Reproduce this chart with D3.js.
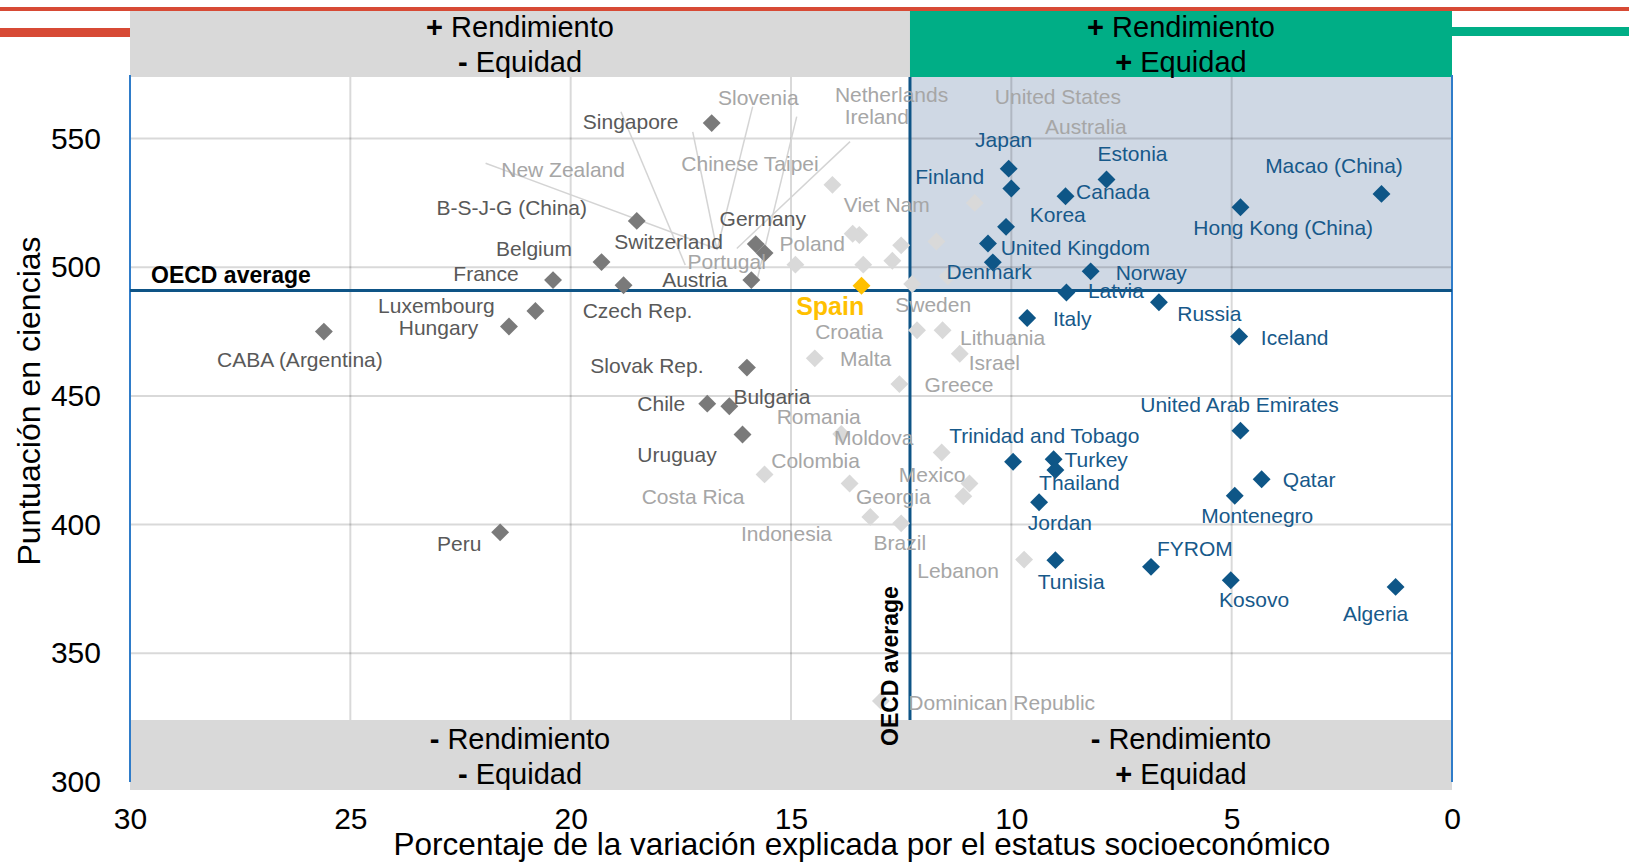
<!DOCTYPE html>
<html>
<head>
<meta charset="utf-8">
<script src="https://cdn.jsdelivr.net/npm/d3@7"></script>
<style>
  body { margin: 0; background: #fff; }
  svg { display: block; font-family: "Liberation Sans", Arial, sans-serif; }
</style>
</head>
<body>
<div id="chart"></div>
<script>
// values: % of variation explained by ESCS (x) and science score (y)
const countries = [
  "Singapore", "B-S-J-G (China)", "Belgium", "France", "Czech Rep.", "Switzerland", "Germany", "Austria",
  "Luxembourg", "Hungary", "CABA (Argentina)", "Peru", "Slovak Rep.", "Chile", "Bulgaria", "Uruguay",
  "Slovenia", "New Zealand", "Chinese Taipei", "Netherlands", "Ireland", "Poland", "Portugal", "Viet Nam",
  "Australia", "United States", "Sweden", "Croatia", "Lithuania", "Malta", "Israel", "Greece", "Romania",
  "Moldova", "Colombia", "Mexico", "Georgia", "Costa Rica", "Indonesia", "Brazil", "Lebanon", "Dominican Republic",
  "Japan", "Finland", "Korea", "Canada", "United Kingdom", "Denmark", "Norway", "Latvia", "Estonia",
  "Macao (China)", "Hong Kong (China)", "Russia", "Iceland", "Italy", "United Arab Emirates", "Qatar",
  "Montenegro", "FYROM", "Kosovo", "Algeria", "Trinidad and Tobago", "Turkey", "Thailand", "Jordan", "Tunisia",
  "Spain"
];
const equityPct = [
  16.8, 18.5, 19.3, 20.4, 18.8, 15.6, 15.8, 15.9,
  20.8, 21.4, 25.6, 21.6, 16.0, 16.9, 16.4, 16.1,
  13.45, 13.6, 14.06, 12.5, 12.7, 13.36, 14.9, 10.83,
  11.7, 11.44, 12.25, 12.14, 11.56, 14.46, 11.17, 12.54, 13.86,
  11.58, 13.67, 10.95, 11.09, 15.6, 13.2, 12.5, 9.71, 12.96,
  10.06, 10.0, 10.12, 8.77, 10.53, 10.42, 8.2, 8.75, 7.84,
  1.6, 4.8, 6.65, 4.83, 9.64, 4.8, 4.32,
  4.93, 6.83, 5.02, 1.28, 9.96, 9.04, 9.0, 9.37, 9.0,
  13.4
];
const scienceScore = [
  556, 518, 502, 495, 493, 505.5, 509, 495,
  483, 477, 475, 397, 461, 447, 446, 435,
  512.5, 513, 532, 508.5, 502.5, 501, 501, 525,
  510, 496.5, 493.5, 475.5, 475.5, 464.6, 466.4, 454.6, 435.2,
  428, 416, 416, 411, 419.5, 403, 400.5, 386.4, 331.5,
  538.3, 530.6, 515.7, 527.6, 509.2, 501.9, 498.4, 490.2, 534.1,
  528.5, 523.3, 486.4, 473.1, 480.3, 436.5, 417.6,
  411.2, 383.6, 378.4, 375.8, 424.4, 425.4, 421.2, 408.7, 386.2,
  492.8
];
const group = [
  "dark", "dark", "dark", "dark", "dark", "dark", "dark", "dark",
  "dark", "dark", "dark", "dark", "dark", "dark", "dark", "dark",
  "light", "light", "light", "light", "light", "light", "light", "light",
  "light", "light", "light", "light", "light", "light", "light", "light", "light",
  "light", "light", "light", "light", "light", "light", "light", "light", "light",
  "blue", "blue", "blue", "blue", "blue", "blue", "blue", "blue", "blue",
  "blue", "blue", "blue", "blue", "blue", "blue", "blue",
  "blue", "blue", "blue", "blue", "blue", "blue", "blue", "blue", "blue",
  "spain"
];

const xTicks = [30, 25, 20, 15, 10, 5, 0];
const yTicks = [300, 350, 400, 450, 500, 550];
const oecdEquity = 12.3;
const oecdScore = 491;

// leader lines, data units: [x1, y1, x2, y2]
const leaderLines = [
  [21.93, 540.4, 16.68, 507.1],
  [18.86, 560.4, 17.40, 500.9],
  [17.23, 552.6, 16.68, 506.7],
  [15.87, 562.4, 16.68, 506.7],
  [14.87, 558.5, 15.78, 494.4],
  [13.66, 548.8, 16.23, 507.3]
];

const quadrantLabels = [
  {side: "left", pos: "top", lines: [["+", "Rendimiento"], ["-", "Equidad"]]},
  {side: "right", pos: "top", lines: [["+", "Rendimiento"], ["+", "Equidad"]]},
  {side: "left", pos: "bottom", lines: [["-", "Rendimiento"], ["-", "Equidad"]]},
  {side: "right", pos: "bottom", lines: [["-", "Rendimiento"], ["+", "Equidad"]]}
];

// label placement (pixels, from the marker to the label centre)
const labelOffset = {
  "Singapore": [-81, -2], "B-S-J-G (China)": [-125, -13.5], "Belgium": [-67.5, -13.5], "France": [-67, -6.6],
  "Czech Rep.": [14, 25.7], "Switzerland": [-96, -12], "Germany": [7, -26], "Austria": [-56.5, -1],
  "Luxembourg": [-99, -5], "Hungary": [-70.5, 0.6], "CABA (Argentina)": [-24, 28], "Peru": [-41, 11],
  "Slovak Rep.": [-100, -2], "Chile": [-46, 0], "Bulgaria": [42.6, -10], "Uruguay": [-65.5, 20],
  "Slovenia": [-101, -137.7], "New Zealand": [-289.6, -64.3], "Chinese Taipei": [-82.4, -21.5],
  "Netherlands": [-9.6, -150.8], "Ireland": [-15.6, -144.3], "Poland": [-51, -21.3], "Portugal": [-68.7, -3],
  "Viet Nam": [-88, 2], "Australia": [149.4, -115], "United States": [110, -179.5], "Sweden": [21, 20.4],
  "Croatia": [-68, 1.2], "Lithuania": [60, 7.5], "Malta": [50.8, 0], "Israel": [34.6, 9], "Greece": [59.6, 0.4],
  "Romania": [-22.5, -17.4], "Moldova": [-68, -15], "Colombia": [-34, -23], "Mexico": [-37.4, -8.6],
  "Georgia": [-70, 0.3], "Costa Rica": [-71.5, 22], "Indonesia": [-83.8, 17], "Brazil": [-1.3, 19],
  "Lebanon": [-66, 10.8], "Dominican Republic": [120.8, 1.5],
  "Japan": [-5, -29.4], "Finland": [-61.7, -11.8], "Korea": [51.7, -12.8], "Canada": [47.3, -5],
  "United Kingdom": [87.4, 3.8], "Denmark": [-3.7, 8.9], "Norway": [60.6, 0.9], "Latvia": [49.5, -1.5],
  "Estonia": [26, -25.6], "Macao (China)": [-47.5, -28.6], "Hong Kong (China)": [42.7, 20.3],
  "Russia": [50.4, 11.6], "Iceland": [55.5, 1.3], "Italy": [45, 0.9], "United Arab Emirates": [-1, -26.4],
  "Qatar": [47.5, 0.3], "Montenegro": [22.5, 19.5], "FYROM": [43.9, -18.2], "Kosovo": [23.3, 19.3],
  "Algeria": [-20, 26.1], "Trinidad and Tobago": [31.2, -26.5], "Turkey": [42.5, 0], "Thailand": [24, 12],
  "Jordan": [20.8, 20.4], "Tunisia": [15.8, 21.7], "Spain": [-31.3, 19.8]
};

const markColor  = {dark: "#7a7a7a", light: "#d9d9d9", blue: "#0e5687", spain: "#ffc000"};
const labelColor = {dark: "#595959", light: "#a6a6a6", blue: "#17598a", spain: "#ffc000"};

const W = 1629, H = 862;
const svg = d3.select("#chart").append("svg")
  .attr("width", W)
  .attr("height", H);

const x = d3.scaleLinear().domain([30, 0]).range([130, 1452]);
const y = d3.scaleLinear().domain([300, 575]).range([782, 74.2]);

const plotLeft = x(30), plotRight = x(0);
const plotTop = 77, boxTop = 720, boxBottom = 790, headTop = 11;
const xo = x(oecdEquity), yo = y(oecdScore);

// decorative slide bars
svg.append("rect").attr("x", 0).attr("y", 7).attr("width", W).attr("height", 4).attr("fill", "#d74a35");
svg.append("rect").attr("x", 0).attr("y", 28).attr("width", plotLeft).attr("height", 9).attr("fill", "#d74a35");
svg.append("rect").attr("x", plotRight).attr("y", 27).attr("width", W - plotRight).attr("height", 9).attr("fill", "#00ae86");

// shaded quadrant (+ rendimiento, + equidad)
svg.append("rect")
  .attr("x", xo).attr("y", plotTop)
  .attr("width", plotRight - xo).attr("height", yo - plotTop)
  .attr("fill", "#cfd8e4");

// gridlines
svg.append("g").selectAll("line")
  .data(xTicks.filter(d => d > 0 && d < 30))
  .join("line")
    .attr("x1", d => x(d)).attr("x2", d => x(d))
    .attr("y1", plotTop).attr("y2", boxTop)
    .attr("stroke", "#000").attr("stroke-opacity", 0.15).attr("stroke-width", 2);

svg.append("g").selectAll("line")
  .data(yTicks.filter(d => d > 300))
  .join("line")
    .attr("x1", plotLeft).attr("x2", plotRight)
    .attr("y1", d => y(d)).attr("y2", d => y(d))
    .attr("stroke", "#000").attr("stroke-opacity", 0.15).attr("stroke-width", 2);

// header boxes and bottom box
svg.append("rect").attr("x", plotLeft).attr("y", headTop).attr("width", xo - plotLeft).attr("height", plotTop - headTop).attr("fill", "#d9d9d9");
svg.append("rect").attr("x", xo).attr("y", headTop).attr("width", plotRight - xo).attr("height", plotTop - headTop).attr("fill", "#00ae86");
svg.append("rect").attr("x", plotLeft).attr("y", boxTop).attr("width", plotRight - plotLeft).attr("height", boxBottom - boxTop).attr("fill", "#d9d9d9");

// frame lines left and right
[plotLeft, plotRight].forEach(px => {
  svg.append("line")
    .attr("x1", px).attr("x2", px).attr("y1", 75).attr("y2", 782)
    .attr("stroke", "#2f7cc9").attr("stroke-width", 2);
});

// OECD average lines
svg.append("line")
  .attr("x1", plotLeft).attr("x2", plotRight).attr("y1", yo).attr("y2", yo)
  .attr("stroke", "#0e5486").attr("stroke-width", 3);
svg.append("line")
  .attr("x1", xo).attr("x2", xo).attr("y1", plotTop).attr("y2", boxTop)
  .attr("stroke", "#0e5486").attr("stroke-width", 3);

// leader lines
svg.append("g").selectAll("line")
  .data(leaderLines)
  .join("line")
    .attr("x1", d => x(d[0])).attr("y1", d => y(d[1]))
    .attr("x2", d => x(d[2])).attr("y2", d => y(d[3]))
    .attr("stroke", "#d4d4d4").attr("stroke-width", 1.5);

const points = countries.map((c, i) => ({name: c, ex: equityPct[i], sc: scienceScore[i], g: group[i]}));
const order = {light: 0, dark: 1, blue: 2, spain: 3};
points.sort((a, b) => order[a.g] - order[b.g]);

// diamonds
svg.append("g").selectAll("path")
  .data(points)
  .join("path")
    .attr("d", d3.symbol(d3.symbolSquare, 160))
    .attr("transform", d => `translate(${x(d.ex)},${y(d.sc)}) rotate(45)`)
    .attr("fill", d => markColor[d.g]);

// country labels
svg.append("g").selectAll("text")
  .data(points)
  .join("text")
    .attr("x", d => x(d.ex) + labelOffset[d.name][0])
    .attr("y", d => y(d.sc) + labelOffset[d.name][1])
    .attr("text-anchor", "middle")
    .attr("dominant-baseline", "central")
    .attr("font-size", d => d.g === "spain" ? 25 : 21)
    .attr("font-weight", d => d.g === "spain" ? "bold" : "normal")
    .attr("fill", d => labelColor[d.g])
    .text(d => d.name);

// quadrant captions
quadrantLabels.forEach(q => {
  const cx = q.side === "left" ? (plotLeft + xo) / 2 : (xo + plotRight) / 2;
  const cy = q.pos === "top" ? 27 : 739;
  q.lines.forEach((ln, k) => {
    const t = svg.append("text")
      .attr("x", cx).attr("y", cy + k * 35)
      .attr("text-anchor", "middle")
      .attr("dominant-baseline", "central")
      .attr("font-size", 29)
      .attr("fill", "#000");
    t.append("tspan").attr("font-weight", "bold").text(ln[0] + " ");
    t.append("tspan").text(ln[1]);
  });
});

// OECD average captions
svg.append("text")
  .attr("x", 151).attr("y", yo - 7)
  .attr("font-size", 23).attr("font-weight", "bold").attr("fill", "#000")
  .text("OECD average");
svg.append("text")
  .attr("transform", `translate(${xo - 20},746) rotate(-90)`)
  .attr("dominant-baseline", "central")
  .attr("font-size", 23).attr("font-weight", "bold").attr("fill", "#000")
  .text("OECD average");

// axes
const yAxis = svg.append("g")
  .attr("transform", `translate(${plotLeft},0)`)
  .call(d3.axisLeft(y).tickValues(yTicks).tickSize(0).tickPadding(29));
const xAxis = svg.append("g")
  .attr("transform", `translate(0,782)`)
  .call(d3.axisBottom(x).tickValues(xTicks).tickSize(0).tickPadding(26));
[yAxis, xAxis].forEach(a => {
  a.select(".domain").remove();
  a.selectAll("text")
    .attr("font-family", "'Liberation Sans', Arial, sans-serif")
    .attr("font-size", 30)
    .attr("fill", "#000");
});

svg.append("text")
  .attr("transform", "translate(29,401) rotate(-90)")
  .attr("text-anchor", "middle")
  .attr("dominant-baseline", "central")
  .attr("font-size", 32)
  .attr("fill", "#000")
  .text("Puntuación en ciencias");

svg.append("text")
  .attr("x", 862).attr("y", 844)
  .attr("text-anchor", "middle")
  .attr("dominant-baseline", "central")
  .attr("font-size", 31.5)
  .attr("fill", "#000")
  .text("Porcentaje de la variación explicada por el estatus socioeconómico");
</script>
</body>
</html>
